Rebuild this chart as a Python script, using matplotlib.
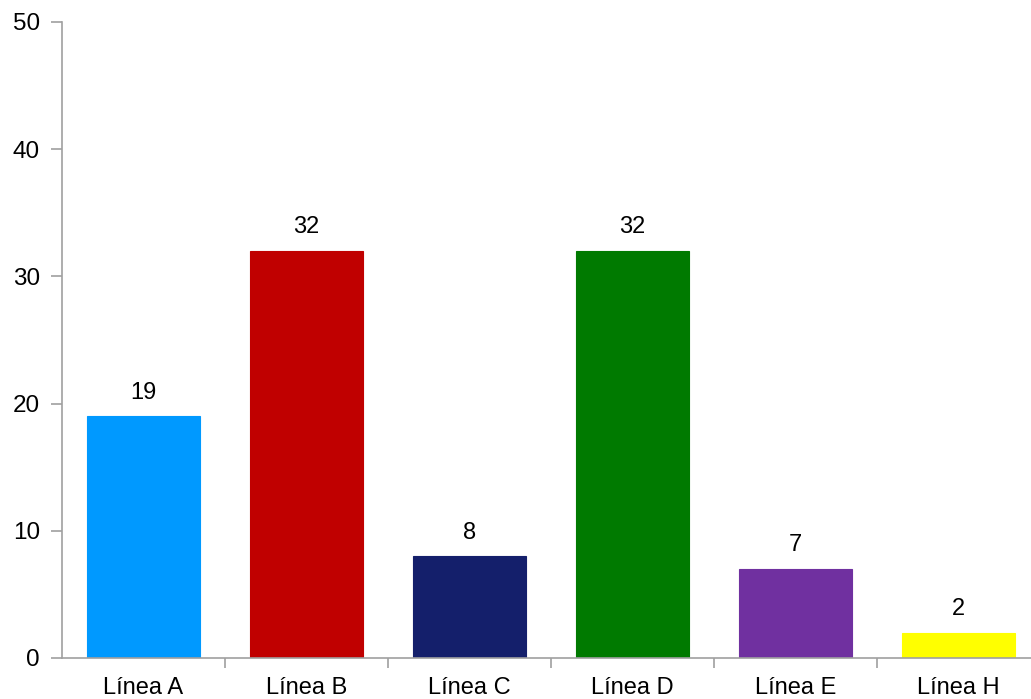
import matplotlib
matplotlib.use("Agg")
import matplotlib.pyplot as plt
import numpy as np

# Counts per line
lineas = ["Línea A", "Línea B", "Línea C", "Línea D", "Línea E", "Línea H"]
valores = [19, 32, 8, 32, 7, 2]
colores = ["#0099FF", "#C00000", "#141F6B", "#007A00", "#7030A0", "#FFFF00"]
y_ticks = [0, 10, 20, 30, 40, 50]

plt.rcParams["font.family"] = ["Liberation Sans", "DejaVu Sans"]

W, H = 1031, 699
fig = plt.figure(figsize=(W / 100, H / 100), dpi=100)
# axes runs a little past the right edge of the figure
ax = fig.add_axes([62 / W, (H - 658) / H, 978 / W, 636 / H])

x = np.arange(len(lineas))
bars = ax.bar(x, valores, width=0.69, color=colores, edgecolor=colores, linewidth=0.8, zorder=2)

for xi, v in zip(x, valores):
    ax.text(xi, v + 1.0, str(v), ha="center", va="bottom", fontsize=17, color="black")

ax.set_xlim(-0.5, len(lineas) - 0.5)
ax.set_ylim(0, 50)
ax.set_yticks(y_ticks)
ax.tick_params(axis="y", length=8, width=1.2, color="#A0A0A0", labelsize=17.5, pad=8)

ax.set_xticks(x)
ax.set_xticklabels(lineas)
ax.set_xticks(np.arange(0.5, len(lineas) - 0.5, 1), minor=True)
ax.tick_params(axis="x", which="major", length=0, labelsize=17, pad=14)
ax.tick_params(axis="x", which="minor", length=7, width=1.2, color="#A0A0A0")

for side in ["top", "right"]:
    ax.spines[side].set_visible(False)
for side in ["left", "bottom"]:
    ax.spines[side].set_color("#A0A0A0")
    ax.spines[side].set_linewidth(1.2)

fig.savefig("out.png", dpi=100)
